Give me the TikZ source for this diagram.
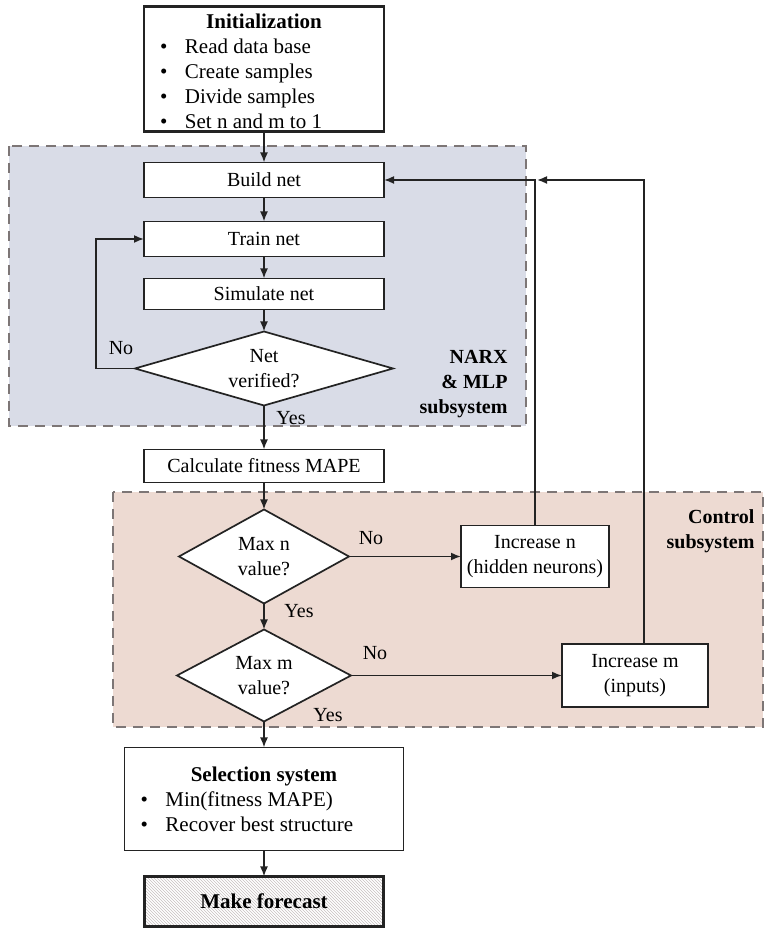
\documentclass[tikz,border=0pt]{standalone}
\usepackage{fontspec}
\setmainfont{Liberation Serif}
\usetikzlibrary{positioning,shapes.geometric,arrows.meta,patterns}

\definecolor{narxfill}{RGB}{217,220,231}
\definecolor{ctrlfill}{RGB}{237,218,210}
\definecolor{zoneline}{RGB}{125,118,118}
\definecolor{hatchline}{RGB}{200,192,192}
\definecolor{ink}{RGB}{35,35,35}

% bullet line of a fixed width
\newcommand{\bul}[2]{\makebox[#1][l]{\makebox[25pt][l]{\textbullet}#2}}

\tikzset{
  stepbox/.style={rectangle, draw=ink, fill=white, line width=1.7pt, inner sep=0pt, outer sep=0pt,
    minimum width=240pt, minimum height=#1, align=center},
  stepbox/.default=35pt,
  test/.style={diamond, draw=ink, fill=white, line width=1.7pt, inner sep=0pt, outer sep=0pt, align=center},
  listbox/.style={rectangle, draw=ink, fill=white, inner sep=0pt, outer sep=0pt, align=center,
    font=\fontsize{21}{25}\selectfont},
  zone/.style={dash pattern=on 10pt off 7pt, line width=2.5pt, draw=zoneline},
  flow/.style={-{Latex[length=10pt,width=8pt]}, line width=1.7pt, draw=ink},
  zonetitle/.style={anchor=east, align=right, font=\fontsize{20}{25}\selectfont\bfseries}
}

\begin{document}
\begin{tikzpicture}[x=1pt, y=1pt, font=\fontsize{20}{25}\selectfont]
\useasboundingbox (0,0) rectangle (766,931);
% subsystems
\draw[zone, fill=narxfill] (9,785) rectangle (526,505);
\draw[zone, fill=ctrlfill] (113,439) rectangle (763,204);

\node (init) [listbox, line width=2.5pt, minimum width=240pt, minimum height=125pt] at (264,862)
  {\rule{0pt}{19pt}\textbf{Initialization}\\ \bul{208pt}{Read data base}\\ \bul{208pt}{Create samples}\\
   \bul{208pt}{Divide samples}\\ \bul{208pt}{Set n and m to 1}};
\node (build) [stepbox, below=31pt of init] {Build net};
\node (train) [stepbox, below=24pt of build] {Train net};
\node (sim) [stepbox=31pt, below=22pt of train] {Simulate net};
\node (verify) [test, aspect=3.5, minimum width=258pt, minimum height=74pt, below=22pt of sim] {Net\\verified?};
\node (fitness) [stepbox=33pt, below=44pt of verify] {Calculate fitness MAPE};
\node (maxn) [test, aspect=1.8, minimum width=170pt, minimum height=94pt, below=27pt of fitness] {Max n\\value?};
\node (maxm) [test, aspect=1.9, minimum width=174pt, minimum height=92pt, below=26pt of maxn] {Max m\\value?};
\node (incn) [stepbox=62pt, minimum width=148pt, right=112pt of maxn] {Increase n\\(hidden neurons)};
\node (incm) [stepbox=63pt, minimum width=146pt, right=211pt of maxm] {Increase m\\(inputs)};
\node (select) [listbox, line width=1.7pt, minimum width=279pt, minimum height=103pt, below=26pt of maxm]
  {\textbf{Selection system}\\ \bul{247pt}{Min(fitness MAPE)}\\ \bul{247pt}{Recover best structure}};
\node (forecast) [rectangle, draw=ink, line width=3pt, outer sep=0pt, minimum width=239pt, minimum height=50pt,
  preaction={fill=white}, pattern=north west lines, pattern color=hatchline,
  font=\fontsize{21}{25}\selectfont\bfseries, below=26pt of select] {Make forecast};

% labels
\node (no1) at (121,583) {No};
\node (yes1) at (291,513) {Yes};
\node (no2) at (371,393) {No};
\node (yes2) at (299,320) {Yes};
\node (no3) at (375,278) {No};
\node (yes3) at (328,216) {Yes};
\node (narx) [zonetitle] at (511,547) {NARX\\\& MLP\\subsystem};
\node (ctrl) [zonetitle] at (758,400) {Control\\subsystem};

% connectors
\draw[flow] (init) -- (build);
\draw[flow] (build) -- (train);
\draw[flow] (train) -- (sim);
\draw[flow] (sim) -- (verify);
\draw[flow] (verify) -- (fitness);
\draw[flow] (verify.west) -- ++(-39,0) |- (train.west);
\draw[flow] (fitness) -- (maxn);
\draw[flow] (maxn) -- (maxm);
\draw[flow] (maxm) -- (select);
\draw[flow] (select) -- (forecast);
\draw[flow] (maxn) -- (incn);
\draw[flow] (maxm) -- (incm);
\draw[flow] (incn.north) |- (build.east);
\coordinate (join) at (incn.north |- build.east);
\draw[flow] ([xshift=9pt]incm.north) |- ([xshift=2pt]join);
\end{tikzpicture}
\end{document}
